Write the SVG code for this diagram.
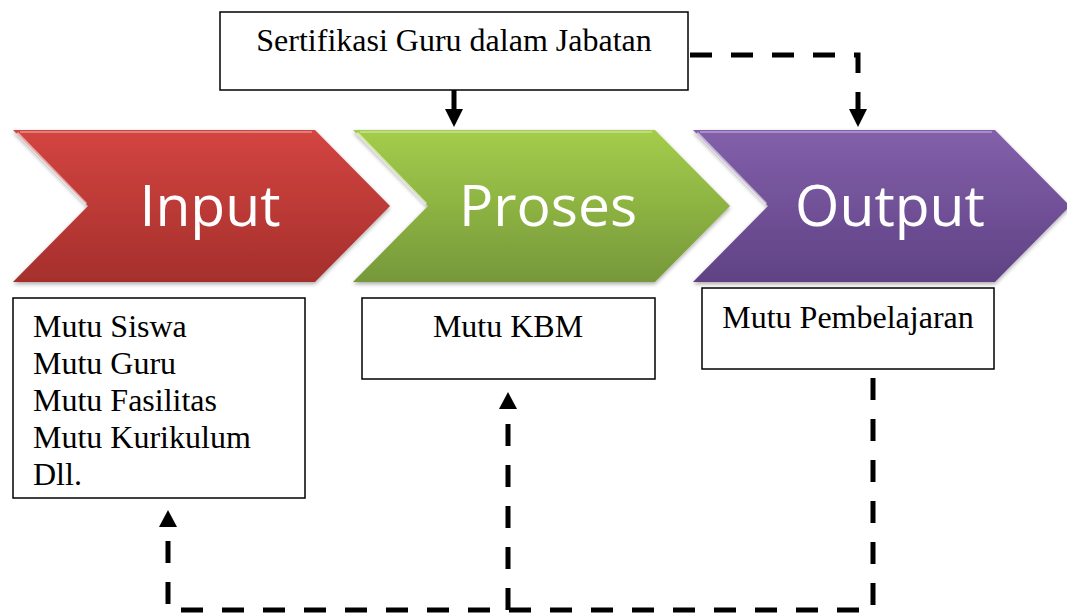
<svg xmlns="http://www.w3.org/2000/svg" width="1067" height="614" viewBox="0 0 1067 614">
<defs>
<linearGradient id="gRed" x1="0" y1="0" x2="0" y2="1">
<stop offset="0" stop-color="#d34541"/><stop offset="1" stop-color="#a52f2c"/>
</linearGradient>
<linearGradient id="gGreen" x1="0" y1="0" x2="0" y2="1">
<stop offset="0" stop-color="#a4cd4b"/><stop offset="1" stop-color="#76983a"/>
</linearGradient>
<linearGradient id="gPurple" x1="0" y1="0" x2="0" y2="1">
<stop offset="0" stop-color="#8360ab"/><stop offset="1" stop-color="#5f4284"/>
</linearGradient>
<filter id="sh" x="-5%" y="-5%" width="110%" height="115%">
<feGaussianBlur in="SourceAlpha" stdDeviation="2"/>
<feOffset dx="0" dy="2"/>
<feComponentTransfer><feFuncA type="linear" slope="0.35"/></feComponentTransfer>
<feMerge><feMergeNode/><feMergeNode in="SourceGraphic"/></feMerge>
</filter>
</defs>
<style>
.box{fill:#fff;stroke:#000;stroke-width:1.5}
.t{font-family:"Liberation Serif","Times New Roman",serif;font-size:32px;fill:#000}
.big{font-family:"Open Sans","Liberation Sans",sans-serif;font-size:57px;fill:#fff;text-anchor:middle}
.dash{fill:none;stroke:#000;stroke-width:5;stroke-dasharray:22 19}
.solid{fill:none;stroke:#000;stroke-width:5}
.hl{fill:none;stroke:#fff;stroke-opacity:0.55;stroke-width:3}
.tl{stroke:#fff;stroke-opacity:0.3;stroke-width:2}
</style>
<g id="input">
<path d="M13,130 L315,130 L390,206 L315,282 L13,282 L88,206 Z" fill="url(#gRed)" filter="url(#sh)"/>
<path d="M17,133 L86,204" class="hl"/>
<path d="M20,132 L312,132" class="tl"/>
<text x="210" y="226" class="big">Input</text>
</g>
<g id="proses">
<path d="M353,130 L655,130 L730,206 L655,282 L353,282 L428,206 Z" fill="url(#gGreen)" filter="url(#sh)"/>
<path d="M357,133 L426,204" class="hl"/>
<path d="M360,132 L652,132" class="tl"/>
<text x="548" y="226" class="big">Proses</text>
</g>
<g id="output">
<path d="M693,130 L995,130 L1070,206 L995,282 L693,282 L768,206 Z" fill="url(#gPurple)" filter="url(#sh)"/>
<path d="M697,133 L766,204" class="hl"/>
<path d="M700,132 L992,132" class="tl"/>
<text x="890" y="226" class="big">Output</text>
</g>
<g id="sertifikasi">
<rect x="220" y="12" width="468" height="78" class="box"/>
<text x="454" y="51" class="t" text-anchor="middle">Sertifikasi Guru dalam Jabatan</text>
</g>
<g id="mutu-input">
<rect x="13" y="298" width="292" height="200" class="box"/>
<text class="t" x="33" y="337">Mutu Siswa</text>
<text class="t" x="33" y="374">Mutu Guru</text>
<text class="t" x="33" y="411">Mutu Fasilitas</text>
<text class="t" x="33" y="448">Mutu Kurikulum</text>
<text class="t" x="33" y="485">Dll.</text>
</g>
<g id="mutu-kbm">
<rect x="362" y="298" width="293" height="81" class="box"/>
<text x="508" y="337" class="t" text-anchor="middle">Mutu KBM</text>
</g>
<g id="mutu-pembelajaran">
<rect x="702" y="288" width="292" height="81" class="box"/>
<text x="848" y="328" class="t" text-anchor="middle">Mutu Pembelajaran</text>
</g>
<g id="connectors">
<path d="M454,90 L454,110" class="solid"/>
<path d="M445,109 L463,109 L454,127 Z" fill="#000"/>
<path d="M690,55 L858,55 L858,110" class="dash"/>
<path d="M849,109 L867,109 L858,127 Z" fill="#000"/>
<path d="M873,378 L873,610 L168,610 L168,530" class="dash"/>
<path d="M159,527 L177,527 L168,510 Z" fill="#000"/>
<path d="M508,610 L508,410" class="dash"/>
<path d="M499,409 L517,409 L508,392 Z" fill="#000"/>
</g>
</svg>
